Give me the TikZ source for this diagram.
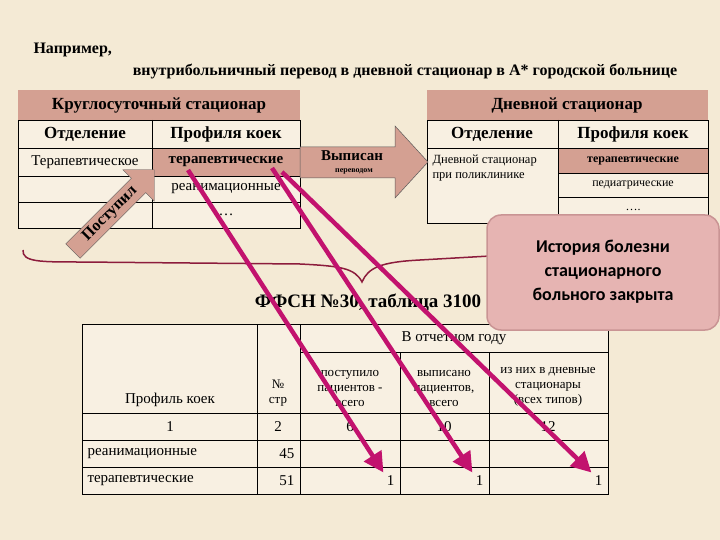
\documentclass[tikz,border=0pt]{standalone}
\usepackage{fontspec}
\setmainfont{Liberation Serif}
\newfontfamily\callfont{Carlito}
\usetikzlibrary{shapes.arrows,arrows.meta}
\definecolor{bg}{HTML}{F4EAD5}
\definecolor{hdr}{HTML}{D4A092}
\definecolor{cell}{HTML}{F8F0E2}
\definecolor{mag}{HTML}{C2126E}
\definecolor{brace}{HTML}{8C1C3C}
\definecolor{callf}{HTML}{E6B4B2}
\definecolor{calld}{HTML}{C99494}
\begin{document}
\begin{tikzpicture}[x=1pt,y=-1pt,
  grid/.style={draw=black,line width=0.8pt},
  hb/.style={font=\bfseries\fontsize{17}{19}\selectfont},
  tx/.style={font=\fontsize{15}{17}\selectfont},
  sm/.style={font=\fontsize{13}{15}\selectfont,align=center},
  ma/.style={draw=mag,line width=4.5pt,-{Triangle[length=20pt,width=20pt]}}]
\fill[bg] (0,0) rectangle (720,540);
\useasboundingbox (0,0) rectangle (720,540);
% title
\node[anchor=west,font=\bfseries\fontsize{16}{18}\selectfont] (t1) at (30,50) {Например,};
\node[font=\bfseries\fontsize{16}{18}\selectfont] (t2) at (405,72) {внутрибольничный перевод в дневной стационар в А* городской больнице};
% left table
\fill[hdr] (18,90) rectangle (300,120);
\fill[cell] (18,120) rectangle (300,228);
\fill[hdr] (152,148) rectangle (300,176);
\draw[grid] (18,120) rectangle (300,228);
\draw[grid] (152,120) -- (152,228);
\foreach \y in {148,176,202} \draw[grid] (18,\y) -- (300,\y);
\node[hb] (lh) at (159,105) {Круглосуточный стационар};
\node[hb] (l1) at (85,134) {Отделение};
\node[hb] (l2) at (226,134) {Профиля коек};
\node[tx] (l3) at (85,162) {Терапевтическое};
\node[font=\bfseries\fontsize{15}{17}\selectfont] (l4) at (226,162) {терапевтические};
\node[tx] (l5) at (226,189) {реанимационные};
\node[tx] (l6) at (226,215) {…};
% right table
\fill[hdr] (427,90) rectangle (708,120);
\fill[cell] (427,120) rectangle (708,223);
\fill[hdr] (558,148) rectangle (708,173);
\draw[grid] (427,120) rectangle (708,223);
\draw[grid] (558,120) -- (558,223);
\draw[grid] (427,148) -- (708,148);
\draw[grid] (558,173) -- (708,173);
\draw[grid] (558,197) -- (708,197);
\node[hb] (rh) at (567,105) {Дневной стационар};
\node[hb] (r1) at (492,134) {Отделение};
\node[hb] (r2) at (633,134) {Профиля коек};
\node[font=\fontsize{12.5}{15}\selectfont,align=left,anchor=north west] (r3) at (429,151) {Дневной стационар\\при поликлинике};
\node[font=\bfseries\fontsize{12}{14}\selectfont] (r4) at (633,161) {терапевтические};
\node[font=\fontsize{12}{14}\selectfont] (r5) at (633,185) {педиатрические};
\node[font=\fontsize{12}{14}\selectfont] (r6) at (633,210) {….};
% Выписан arrow
\draw[draw=gray!70!black,fill=hdr,line width=0.5pt] (300,147) -- (395,147) -- (395,126) -- (428,162) -- (395,198) -- (395,178) -- (300,178) -- cycle;
\node[font=\bfseries\fontsize{15}{17}\selectfont] (v1) at (352,156) {Выписан};
\node[font=\bfseries\fontsize{8}{10}\selectfont] (v2) at (354,171) {переводом};
% Поступил arrow
\node[single arrow,draw=gray!70!black,fill=hdr,rotate=45,minimum height=115pt,minimum width=40pt,single arrow head extend=12pt,single arrow head indent=0pt,inner sep=3pt,font=\bfseries\fontsize{16}{18}\selectfont] (p) at (110,214) {Поступил};
% brace
\draw[brace,line width=1.5pt] (23,250) .. controls (22,262) and (40,262) .. (80,262) -- (300,264) .. controls (340,266) and (355,268) .. (362,282) .. controls (368,268) and (380,262) .. (420,260) -- (560,252);
% form title
\node[font=\bfseries\fontsize{19}{21}\selectfont] (f) at (368,302) {ФФСН №30, таблица 3100};
% bottom table
\fill[cell] (82,324) rectangle (608,494);
\draw[grid] (82,324) rectangle (608,494);
\draw[grid] (257,324) -- (257,494);
\draw[grid] (300,324) -- (300,494);
\draw[grid] (400,352) -- (400,494);
\draw[grid] (489,352) -- (489,494);
\draw[grid] (300,352) -- (608,352);
\foreach \y in {413,440,467} \draw[grid] (82,\y) -- (608,\y);
\node[tx] (b0) at (454,338) {В отчетном году};
\node[tx,anchor=south] (b1) at (170,410) {Профиль коек};
\node[sm,anchor=south] (b2) at (278,410) {№\\стр};
\node[sm,anchor=south] (b3) at (350,410) {поступило\\пациентов -\\всего};
\node[sm,anchor=south] (b4) at (444,410) {выписано\\пациентов,\\всего};
\node[sm,anchor=south] (b5) at (548,410) {из них в дневные\\стационары\\(всех типов)};
\node[tx] (c1) at (170,427) {1};
\node[tx] (c2) at (278,427) {2};
\node[tx] (c3) at (350,427) {6};
\node[tx] (c4) at (444,427) {10};
\node[tx] (c5) at (548,427) {12};
\node[tx,anchor=west] (d1) at (84,454) {реанимационные};
\node[tx,anchor=east] (d2) at (298,454) {45};
\node[tx,anchor=west] (e1) at (84,481) {терапевтические};
\node[tx,anchor=east] (e2) at (298,481) {51};
\node[tx,anchor=east] (e3) at (398,481) {1};
\node[tx,anchor=east] (e4) at (487,481) {1};
\node[tx,anchor=east] (e5) at (606,481) {1};
% callout
\draw[calld,fill=callf,line width=1.5pt,rounded corners=14pt] (487,215) rectangle (719,330);
\node[font=\callfont\bfseries\fontsize{18}{24}\selectfont,align=center] (cl) at (603,272) {История болезни\\стационарного\\больного закрыта};
% magenta arrows
\coordinate (s1) at (188,170);
\coordinate (s2) at (272,168);
\coordinate (s3) at (282,172);
\draw[ma] (s1) -- (e3.north west);
\draw[ma] (s2) -- (e4.north west);
\draw[ma] (s3) -- (e5.north west);
\end{tikzpicture}
\end{document}
